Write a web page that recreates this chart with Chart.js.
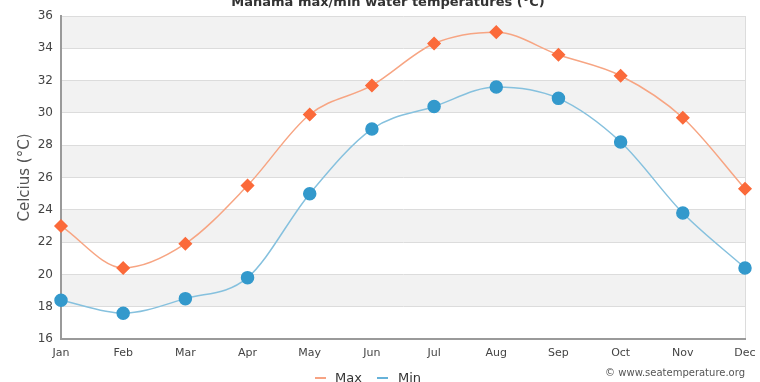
<!DOCTYPE html>
<html>
<head>
<meta charset="utf-8">
<script src="https://cdn.jsdelivr.net/npm/chart.js@4"></script>
<style>
  html, body { margin: 0; padding: 0; background: #fff; }
  #wrap { width: 760px; height: 382px; position: relative; }
</style>
</head>
<body>
<div id="wrap"><canvas id="chart"></canvas></div>
<script>
const months = ['Jan', 'Feb', 'Mar', 'Apr', 'May', 'Jun', 'Jul', 'Aug', 'Sep', 'Oct', 'Nov', 'Dec'];
const maxTemps = [23.0, 20.4, 21.9, 25.5, 29.9, 31.7, 34.3, 35.0, 33.6, 32.3, 29.7, 25.3];
const minTemps = [18.4, 17.6, 18.5, 19.8, 25.0, 29.0, 30.4, 31.6, 30.9, 28.2, 23.8, 20.4];
const yTicks = [16, 18, 20, 22, 24, 26, 28, 30, 32, 34, 36];

const FONT = '"DejaVu Sans", sans-serif';

// grey bands every other 2 degrees
const bands = {
    id: 'bands',
    beforeDraw(chart) {
        const { ctx, chartArea, scales } = chart;
        const y = scales.y;
        ctx.save();
        ctx.fillStyle = '#f2f2f2';
        for (let i = 0; i < yTicks.length - 1; i++) {
            if (i % 2 === 1) {
                const top = y.getPixelForValue(yTicks[i + 1]);
                const bot = y.getPixelForValue(yTicks[i]);
                ctx.fillRect(chartArea.left, top, chartArea.right - chartArea.left, bot - top);
            }
        }
        ctx.restore();
    }
};

// title, legend and credit text
const extras = {
    id: 'extras',
    afterDraw(chart) {
        const ctx = chart.ctx;
        ctx.save();
        ctx.fillStyle = '#333';
        ctx.font = 'bold 13px ' + FONT;
        ctx.textAlign = 'center';
        ctx.textBaseline = 'middle';
        ctx.fillText('Manama max/min water temperatures (°C)', 388, 3);

        ctx.font = '13px ' + FONT;
        ctx.textAlign = 'left';
        ctx.lineWidth = 1.5;
        ctx.strokeStyle = '#f4845a';
        ctx.beginPath(); ctx.moveTo(315, 378); ctx.lineTo(326, 378); ctx.stroke();
        ctx.fillText('Max', 335, 379);
        ctx.strokeStyle = '#3399cc';
        ctx.beginPath(); ctx.moveTo(377, 378); ctx.lineTo(388, 378); ctx.stroke();
        ctx.fillText('Min', 398, 379);

        ctx.fillStyle = '#555';
        ctx.font = '10px ' + FONT;
        ctx.textAlign = 'right';
        ctx.fillText('© www.seatemperature.org', 745, 373);
        ctx.restore();
    }
};

new Chart(document.getElementById('chart'), {
    type: 'line',
    data: {
        labels: months,
        datasets: [{
            label: 'Max',
            data: maxTemps,
            borderColor: '#f7a583',
            borderWidth: 1.5,
            backgroundColor: '#fb6a3a',
            pointBackgroundColor: '#fb6a3a',
            pointBorderColor: '#fb6a3a',
            pointStyle: 'rectRot',
            pointRadius: 6,
            cubicInterpolationMode: 'monotone',
            fill: false
        }, {
            label: 'Min',
            data: minTemps,
            borderColor: '#86c1de',
            borderWidth: 1.5,
            backgroundColor: '#3399cc',
            pointBackgroundColor: '#3399cc',
            pointBorderColor: '#3399cc',
            pointStyle: 'circle',
            pointRadius: 6,
            cubicInterpolationMode: 'monotone',
            fill: false
        }]
    },
    options: {
        responsive: true,
        maintainAspectRatio: false,
        animation: false,
        layout: { padding: { top: 16, right: 15, bottom: 0, left: 0 } },
        plugins: {
            legend: { display: false },
            title: { display: false },
            tooltip: { enabled: false }
        },
        scales: {
            x: {
                offset: false,
                grid: {
                    drawTicks: false,
                    color: (c) => c.index === months.length - 1 ? '#dcdcdc' : 'transparent'
                },
                border: { color: '#9a9a9a', width: 2 },
                ticks: { color: '#444', font: { family: FONT, size: 11 }, padding: 8, maxRotation: 0, autoSkip: false },
                afterFit(scale) {
                    scale.height = 43;
                    scale.paddingLeft = 0;
                    scale.paddingRight = 0;
                }
            },
            y: {
                min: 16,
                max: 36,
                afterBuildTicks(scale) { scale.ticks = yTicks.map(v => ({ value: v })); },
                grid: { drawTicks: false, color: '#dcdcdc' },
                border: { color: '#9a9a9a', width: 2 },
                ticks: { color: '#444', font: { family: FONT, size: 12 }, padding: 8 },
                title: {
                    display: true,
                    text: 'Celcius (°C)',
                    color: '#555',
                    font: { family: FONT, size: 15 },
                    padding: { top: 16, bottom: 0 }
                },
                afterFit(scale) {
                    scale.width = 61;
                    scale.paddingTop = 0;
                    scale.paddingBottom = 0;
                }
            }
        }
    },
    plugins: [bands, extras]
});
</script>
</body>
</html>
